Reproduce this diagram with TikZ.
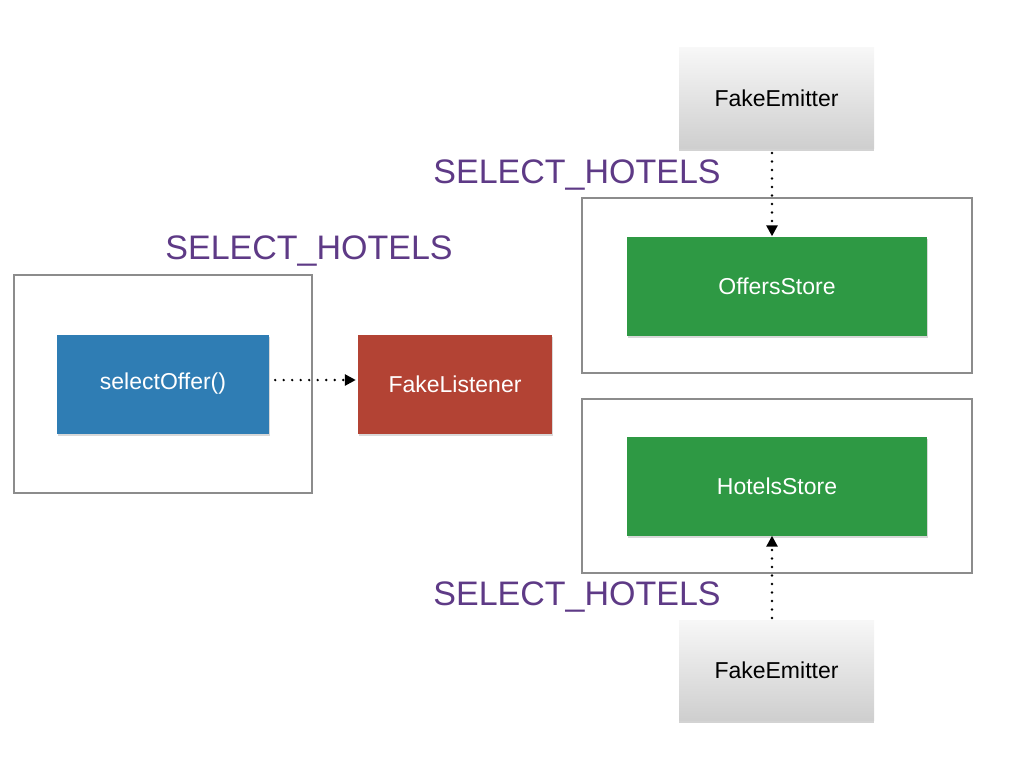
\documentclass[tikz,border=0pt]{standalone}
\usepackage{fontspec}
\setmainfont{Liberation Sans}
\usetikzlibrary{shadows,arrows.meta}
\definecolor{lblpurple}{HTML}{5E3A86}
\definecolor{boxgreen}{HTML}{2E9944}
\definecolor{boxblue}{HTML}{2F7DB4}
\definecolor{boxred}{HTML}{B34334}
\definecolor{frame}{HTML}{8C8C8C}
\tikzset{
  container/.style={draw=frame, line width=1.6pt, fill=white},
  filled/.style={minimum width=#1, minimum height=99pt, inner sep=0pt, text=white,
    font=\fontsize{23}{27}\selectfont, drop shadow={shadow xshift=1pt, shadow yshift=-2pt, opacity=0.3}},
  emitter/.style={minimum width=195pt, minimum height=100pt, inner sep=0pt,
    top color=gray!6, bottom color=gray!38, text=black,
    font=\fontsize{23}{27}\selectfont, drop shadow={shadow xshift=0pt, shadow yshift=-2.5pt, opacity=0.35}},
  evlabel/.style={text=lblpurple, font=\fontsize{34}{40}\selectfont, inner sep=0pt},
  flow/.style={line width=2.6pt, dash pattern=on 0pt off 8.5pt, line cap=round,
    -{Triangle[length=11pt,width=11pt,line cap=butt]}, shorten >=0pt}
}
\begin{document}
\begin{tikzpicture}[x=1pt,y=-1pt]
\useasboundingbox (0,0) rectangle (1024,768);
% containers
\draw[container] (582,198) rectangle (972,373);
\draw[container] (582,399) rectangle (972,573);
\draw[container] (14,275) rectangle (312,493);
% labels
\node[evlabel] (lbl1) at (577,175) {SELECT\_HOTELS};
\node[evlabel] (lbl2) at (309,251) {SELECT\_HOTELS};
\node[evlabel] (lbl3) at (577,597) {SELECT\_HOTELS};
% nodes
\node[emitter] (em1) at (776.5,98) {FakeEmitter};
\node[emitter] (em2) at (776.5,670) {FakeEmitter};
\node[filled=300pt, fill=boxgreen] (offers) at (777,286) {OffersStore};
\node[filled=300pt, fill=boxgreen] (hotels) at (777,486) {HotelsStore};
\node[filled=212pt, fill=boxblue] (select) at (163,384) {selectOffer()};
\node[filled=194pt, fill=boxred] (listener) at (455,384) {FakeListener};
% connectors
\coordinate (a1) at (772,153);
\coordinate (a2) at (772,618);
\draw[flow] (a1) -- (a1 |- offers.north);
\draw[flow] (a2) -- (a2 |- hotels.south);
\draw[flow] ([xshift=6pt]select.east |- 0,380) -- ([xshift=-2pt]listener.west |- 0,380);
\end{tikzpicture}
\end{document}
